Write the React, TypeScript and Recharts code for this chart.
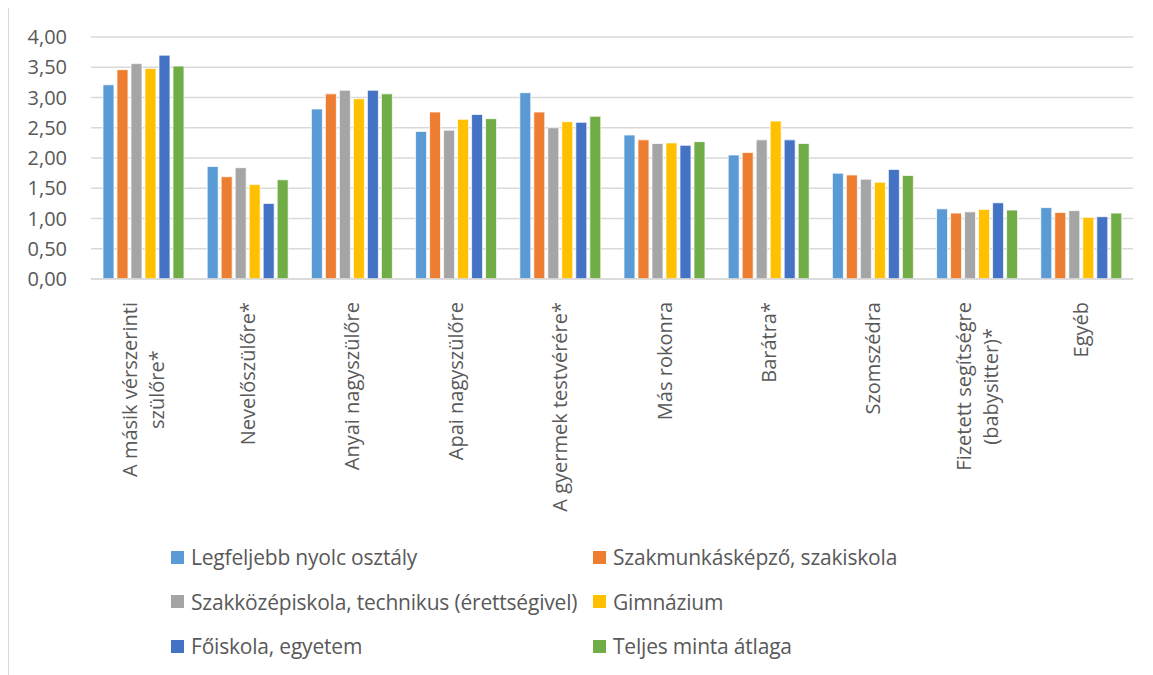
import React from "react";
import { BarChart, Bar, XAxis, YAxis, CartesianGrid } from "recharts";

const categories = [
  "A másik vérszerinti\nszülőre*",
  "Nevelőszülőre*",
  "Anyai nagyszülőre",
  "Apai nagyszülőre",
  "A gyermek testvérére*",
  "Más rokonra",
  "Barátra*",
  "Szomszédra",
  "Fizetett segítségre\n(babysitter)*",
  "Egyéb",
];

const legfeljebbNyolc = [3.21, 1.86, 2.81, 2.44, 3.08, 2.38, 2.05, 1.75, 1.16, 1.18];
const szakmunkas = [3.46, 1.69, 3.06, 2.76, 2.76, 2.3, 2.09, 1.72, 1.09, 1.1];
const szakkozep = [3.56, 1.84, 3.12, 2.46, 2.5, 2.24, 2.3, 1.65, 1.11, 1.13];
const gimnazium = [3.48, 1.56, 2.98, 2.64, 2.6, 2.25, 2.61, 1.6, 1.15, 1.02];
const foiskola = [3.7, 1.25, 3.12, 2.72, 2.59, 2.21, 2.3, 1.81, 1.26, 1.03];
const teljesMinta = [3.52, 1.64, 3.06, 2.65, 2.69, 2.27, 2.24, 1.71, 1.14, 1.09];

const yTicks = [0, 0.5, 1, 1.5, 2, 2.5, 3, 3.5, 4];

const series = [
  { key: "s1", name: "Legfeljebb nyolc osztály", color: "#5B9BD5", values: legfeljebbNyolc },
  { key: "s2", name: "Szakmunkásképző, szakiskola", color: "#ED7D31", values: szakmunkas },
  { key: "s3", name: "Szakközépiskola, technikus (érettségivel)", color: "#A5A5A5", values: szakkozep },
  { key: "s4", name: "Gimnázium", color: "#FFC000", values: gimnazium },
  { key: "s5", name: "Főiskola, egyetem", color: "#4472C4", values: foiskola },
  { key: "s6", name: "Teljes minta átlaga", color: "#70AD47", values: teljesMinta },
];

const data = categories.map((c, i) => {
  const row: Record<string, string | number> = { cat: c };
  series.forEach((s) => {
    row[s.key] = s.values[i];
  });
  return row;
});

const FONT = "'Open Sans', 'Noto Sans', sans-serif";
const TEXT = "#595959";

function CatTick(props: any) {
  const { x, y, payload } = props;
  return (
    <foreignObject x={x - 60} y={y + 15} width={120} height={250}>
      <div style={{ display: "flex", justifyContent: "center", alignItems: "flex-start", height: "100%" }}>
        <div
          style={{
            writingMode: "vertical-rl",
            transform: "rotate(180deg)",
            textAlign: "center",
            whiteSpace: "pre",
            fontFamily: FONT,
            fontSize: 20,
            lineHeight: "27px",
            color: TEXT,
          }}
        >
          {payload.value}
        </div>
      </div>
    </foreignObject>
  );
}

export default function App() {
  return (
    <div
      style={{
        position: "relative",
        width: 1145,
        height: 667,
        borderLeft: "1px solid #d9d9d9",
        boxSizing: "border-box",
        fontFamily: FONT,
      }}
    >
      <BarChart
        width={1144}
        height={531}
        data={data}
        margin={{ top: 29, right: 20, bottom: 0, left: 0 }}
        barCategoryGap="11.5%"
        barGap={3}
      >
        <CartesianGrid vertical={false} stroke="#d9d9d9" strokeWidth={1.5} />
        <XAxis
          dataKey="cat"
          interval={0}
          height={260}
          tickLine={false}
          axisLine={{ stroke: "#d9d9d9", strokeWidth: 1.5 }}
          tick={<CatTick />}
        />
        <YAxis
          width={82}
          domain={[0, 4]}
          ticks={yTicks}
          axisLine={false}
          tickLine={false}
          tickSize={0}
          tickMargin={24}
          tickFormatter={(v: number) => v.toFixed(2).replace(".", ",")}
          tick={{ fontSize: 20, fill: TEXT, fontFamily: FONT }}
        />
        {series.map((s) => (
          <Bar
            key={s.key}
            dataKey={s.key}
            name={s.name}
            fill={s.color}
            stroke="#ffffff"
            strokeWidth={0.75}
            isAnimationActive={false}
          />
        ))}
      </BarChart>
      <div
        style={{
          position: "absolute",
          left: 162,
          top: 527,
          display: "grid",
          gridTemplateColumns: "422px 400px",
          gridAutoRows: "44.5px",
          alignItems: "center",
        }}
      >
        {series.map((s) => (
          <div key={s.key} style={{ display: "flex", alignItems: "center" }}>
            <span
              style={{ width: 13, height: 13, background: s.color, display: "inline-block", marginRight: 7, flex: "none" }}
            />
            <span style={{ fontSize: 21, letterSpacing: "-0.2px", color: TEXT, whiteSpace: "nowrap" }}>{s.name}</span>
          </div>
        ))}
      </div>
    </div>
  );
}
